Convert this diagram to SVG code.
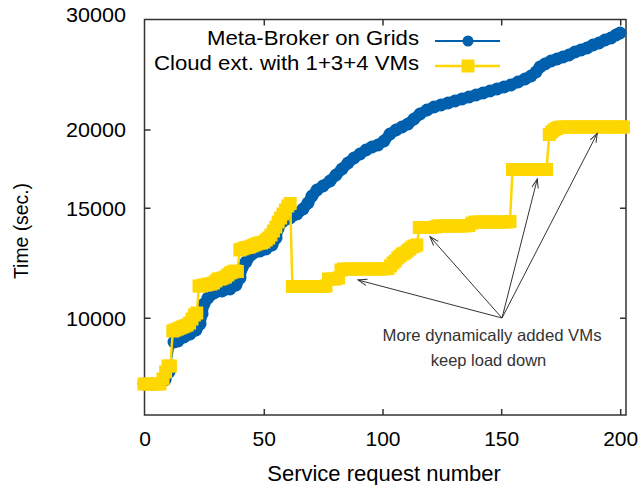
<svg xmlns="http://www.w3.org/2000/svg" width="641" height="485" viewBox="0 0 641 485">
<style>
.t{font-family:"Liberation Sans",Arial,sans-serif;font-size:21px;fill:#000}
.ann{font-family:"Liberation Sans",Arial,sans-serif;font-size:16.5px;fill:#333;text-anchor:middle}
.frame{fill:none;stroke:#333;stroke-width:1.5}
.tick{stroke:#333;stroke-width:1.5}
.blue{fill:none;stroke:#0060ad;stroke-width:11;stroke-linejoin:round;stroke-linecap:round}
.yel{fill:none;stroke:#ffd700;stroke-width:2.5}
.arr{fill:none;stroke:#333;stroke-width:1}
</style>
<defs>
<marker id="ci" markerUnits="userSpaceOnUse" markerWidth="14" markerHeight="14" refX="7" refY="7" overflow="visible"><circle cx="7" cy="7" r="6.5" fill="#0060ad"/></marker>
<marker id="sq" markerUnits="userSpaceOnUse" markerWidth="13" markerHeight="13" refX="6.5" refY="6.5" overflow="visible"><rect width="13" height="13" fill="#ffd700"/></marker>
<marker id="ah" markerUnits="userSpaceOnUse" markerWidth="10" markerHeight="10" refX="0" refY="0" orient="auto" overflow="visible"><path d="M-9,-3.2 L0,0 L-9,3.2" fill="none" stroke="#333" stroke-width="1"/></marker>
</defs>

<g id="axes">
<rect class="frame" x="144.5" y="19.5" width="481.5" height="395.5"/>
<path class="tick" d="M144.5,130h6M144.5,208.3h6M144.5,318.3h6M626,130h-6M626,208.3h-6M626,318.3h-6M264.3,415v-6M383,415v-6M501.7,415v-6M620.7,415v-6M264.3,19.5v6M383,19.5v6M501.7,19.5v6M620.7,19.5v6"/>
<g class="t" text-anchor="end">
<text x="126" y="22" textLength="60" lengthAdjust="spacingAndGlyphs">30000</text>
<text x="126" y="137" textLength="60" lengthAdjust="spacingAndGlyphs">20000</text>
<text x="126" y="216" textLength="60" lengthAdjust="spacingAndGlyphs">15000</text>
<text x="126" y="326" textLength="60" lengthAdjust="spacingAndGlyphs">10000</text>
</g>
<g class="t" text-anchor="middle">
<text x="145" y="446">0</text>
<text x="264.3" y="446">50</text>
<text x="383" y="446">100</text>
<text x="501.7" y="446">150</text>
<text x="620.7" y="446">200</text>
<text x="384" y="481" style="font-size:22px">Service request number</text>
<text transform="translate(28,231) rotate(-90)" style="font-size:20px" textLength="96" lengthAdjust="spacingAndGlyphs">Time (sec.)</text>
</g>
</g>

<g id="series-grid">
<polyline class="blue" points="144,384 152,384 160,383 165,380 169,372 170,367" marker-start="url(#ci)" marker-mid="url(#ci)" marker-end="url(#ci)"/>
<line x1="170" y1="367" x2="174" y2="342" stroke="#0060ad" stroke-width="2"/>
<polyline class="blue" points="174,342 178,341 184,337 190,334 196,330 200,324 202,314 204,304 208,298 214,293 222,291 230,289 236,285 240,278 242,268 246,262 252,254 260,251 266,249 272,245 276,238 278,229 282,222 290,218 297,214 303,209 308,203 312,196 317,190 323,186 330,181 336,175 342,169 348,163 354,158 360,154 366,150 372,147 378,145 384,141 390,134 396,130 402,127 408,124 414,119 420,114 427,110 434,107 441,105 448,103 455,101 462,99 469,97 476,95 483,93 490,91 497,89 504,87 511,85 518,82 525,79 531,76 536,72 540,67 545,64 551,61 557,59 563,57 569,55 575,52 581,50 587,48 593,45 599,43 605,40 611,38 616,35 620,33" marker-start="url(#ci)" marker-mid="url(#ci)" marker-end="url(#ci)"/>
</g>

<g id="series-cloud">
<polyline class="yel" marker-start="url(#sq)" marker-mid="url(#sq)" marker-end="url(#sq)" points="144,384 148,384 152,384 156,384 160,384 163,379 165.6,372 168,366 170.4,366 172.8,331 175.2,330 177.6,329 180,328 182.4,327 184.8,326 187.2,325 189.6,323 192,319 194.4,315 196.8,313 199,286 201.4,286 203.8,285 206.2,285 208.6,284 211,284 213.4,283 215.8,281 218.2,279 220.6,279 223,278 225.4,277 227.8,275 230.2,273 232.6,272 235,271 237.4,271.5 239.8,250 242.2,249 244.6,248 247,247.5 249.4,247 251.8,246 254.2,245 256.6,244 259,243 261.4,243 263.8,242 266.2,240 268.6,238 271,235 273.4,231 275.8,227 278.2,222 280.6,218 283,214 285.4,210 287.8,206 290.2,203.5 292.4,286.5 294.8,286.5 299,286.5 303,286.5 307,286.5 311,286.5 315,286.5 319,286.5 323,286.5 326,286 328.5,279 332,279 335,279 338.5,278 341,270 343.5,269 348,269 352,269 356,269 360,269 364,269 368,269 372,269 376,269 380,269 384,269 388,268.5 390.5,266 392.9,263 395.3,261 397.7,258 400.1,256 402.5,254 404.9,253 407.3,251 409.7,249 412.1,247 414.5,246 416.9,245 419.3,227.5 423,227.5 427,227.5 431,227.5 435,227 437.5,226 441,226 445,226 449,226 453,226 457,226 461,226 465,226 469,225.5 472,223 475,222 479,222 483,222 487,222 491,222 495,222 499,222 503,222 507,222 510,221.5 512.5,169.5 516,169.5 520,169.5 524,169.5 528,169.5 532,169.5 536,169.5 540,169.5 544,169.5 546.5,169.5 549.3,134.5 551.7,132 554.1,130 556.5,128.5 558.9,127.5 561.3,127 565,127 569,127 573,127 577,127 581,127 585,127 589,127 593,127 597,127 601,127 605,127 609,127 613,127 617,127 621,127 623.5,127"/>
</g>

<g id="legend">
<text class="t" x="419" y="45" text-anchor="end" textLength="212" lengthAdjust="spacingAndGlyphs">Meta-Broker on Grids</text>
<line x1="435" y1="41" x2="500" y2="41" stroke="#0060ad" stroke-width="2"/>
<circle cx="468" cy="41" r="5.5" fill="#0060ad"/>
<text class="t" x="419" y="70" text-anchor="end" textLength="265" lengthAdjust="spacingAndGlyphs">Cloud ext. with 1+3+4 VMs</text>
<line x1="435" y1="66" x2="500" y2="66" stroke="#ffd700" stroke-width="2.5"/>
<rect x="461.5" y="59.5" width="13" height="13" fill="#ffd700"/>
</g>

<g id="connectors">
<line class="arr" x1="502" y1="318" x2="358" y2="280" marker-end="url(#ah)"/>
<line class="arr" x1="502" y1="318" x2="430" y2="236.7" marker-end="url(#ah)"/>
<line class="arr" x1="502" y1="318" x2="537.3" y2="179" marker-end="url(#ah)"/>
<line class="arr" x1="502" y1="318" x2="597.3" y2="133.3" marker-end="url(#ah)"/>
</g>

<g id="annotation">
<text class="ann" x="492" y="341" textLength="219" lengthAdjust="spacingAndGlyphs">More dynamically added VMs</text>
<text class="ann" x="488.5" y="366">keep load down</text>
</g>
</svg>
